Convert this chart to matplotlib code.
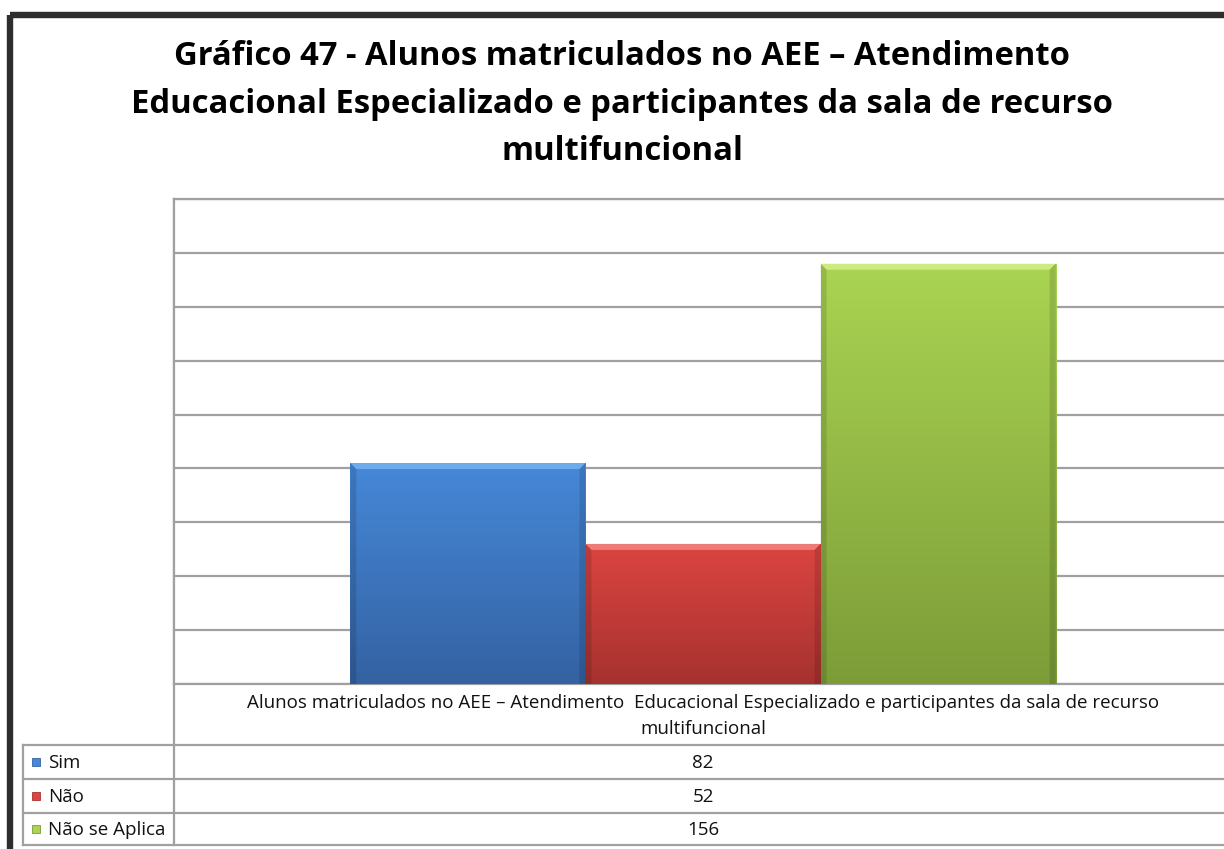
import matplotlib
matplotlib.use("Agg")
import matplotlib.pyplot as plt
import numpy as np
from matplotlib.patches import Rectangle, Polygon
from matplotlib.colors import to_rgb

plt.rcParams['font.family'] = ['Open Sans', 'DejaVu Sans']

title_lines = [
    "Gráfico 47 - Alunos matriculados no AEE – Atendimento",
    "Educacional Especializado e participantes da sala de recurso",
    "multifuncional",
]
category = ("Alunos matriculados no AEE – Atendimento  Educacional Especializado e participantes da sala de recurso\n"
            "multifuncional")
series = ["Sim", "Não", "Não se Aplica"]
values = [82, 52, 156]
# (top, bottom) shades for each series
shades = [("#4688d8", "#3462a2"), ("#dc4541", "#a6322f"), ("#aad452", "#7c9c38")]
bevel_light = ["#7ab4f2", "#f48a86", "#d8f28e"]

W, H = 1224, 849
fig = plt.figure(figsize=(W / 100, H / 100), dpi=100)
fig.patch.set_facecolor("white")

# pixel layout helper: an overlay axes in pixel coordinates
lay = fig.add_axes([0, 0, 1, 1])
lay.set_xlim(0, W)
lay.set_ylim(H, 0)
lay.axis("off")

# outer frame of the chart
lay.add_patch(Rectangle((10, 14.5), 1300, 1000, fill=False, ec="#2e2e2e", lw=4.6))

for i, line in enumerate(title_lines):
    lay.text(622, 65 + 47.5 * i, line, ha="center", va="baseline",
             fontsize=23.6, fontweight="bold", color="black")

# plot area
left, right, top, bottom = 174, 1232, 199, 684
ax = fig.add_axes([left / W, 1 - bottom / H, (right - left) / W, (bottom - top) / H])
ax.set_xlim(-0.5, 0.5)
ax.set_ylim(0, 180)
ax.set_yticks(np.arange(0, 181, 20))
ax.set_xticks([])
ax.tick_params(left=False, labelleft=False)
ax.grid(axis="y", color="#a0a0a0", lw=1.6)
ax.set_axisbelow(True)
for s in ax.spines.values():
    s.set_color("#a0a0a0")
    s.set_linewidth(1.6)

w = 1 / 4.5
xs = [(i - 1) * w for i in range(len(values))]
bars = ax.bar(xs, values, width=w, color=[c[0] for c in shades], zorder=2, lw=0)

px_x = 1.0 / (right - left)
px_y = 180.0 / (bottom - top)
bx, by = 6 * px_x, 6 * px_y
for rect, (ctop, cbot), light in zip(bars, shades, bevel_light):
    x0, wd, h = rect.get_x(), rect.get_width(), rect.get_height()
    grad = np.linspace(0, 1, 256)[:, None, None]
    img = (1 - grad) * np.array(to_rgb(ctop)) + grad * np.array(to_rgb(cbot))
    im = ax.imshow(img, extent=[x0, x0 + wd, 0, h], aspect="auto", zorder=3, origin="upper")
    im.set_clip_path(rect)
    ax.add_patch(Polygon([(x0, h), (x0 + wd, h), (x0 + wd - bx, h - by), (x0 + bx, h - by)],
                         closed=True, fc=light, ec="none", alpha=0.8, zorder=4))
    for xa, xb in [(x0, x0 + bx), (x0 + wd, x0 + wd - bx)]:
        ax.add_patch(Polygon([(xa, 0), (xa, h), (xb, h - by), (xb, 0)],
                             closed=True, fc="black", alpha=0.12, ec="none", zorder=4))
ax.set_xlim(-0.5, 0.5)
ax.set_ylim(0, 180)

# data table below the plot
grid_c = "#a0a0a0"
rows = [745, 779, 813, 845]
lay.plot([left, left], [top, rows[-1]], color=grid_c, lw=1.6)
lay.plot([23, 23], [rows[0], rows[-1]], color=grid_c, lw=1.6)
for yv in rows:
    lay.plot([23, W + 10], [yv, yv], color=grid_c, lw=1.6)

cx = (left + right) / 2
cat_lines = category.split("\n")
for i, line in enumerate(cat_lines):
    lay.text(cx, 708 + 26 * i, line, ha="center", va="baseline", fontsize=13.5, color="#111111")

for i, (name, val, (ctop, cbot)) in enumerate(zip(series, values, shades)):
    yc = (rows[i] + rows[i + 1]) / 2
    lay.add_patch(Rectangle((32, yc - 4), 8, 8, fc=ctop, ec=cbot, lw=0.6))
    lay.text(48, yc + 6, name, ha="left", va="baseline", fontsize=13.5, color="#111111")
    lay.text(cx, yc + 6, str(val), ha="center", va="baseline", fontsize=13.5, color="#111111")

fig.savefig("out.png", dpi=100)
